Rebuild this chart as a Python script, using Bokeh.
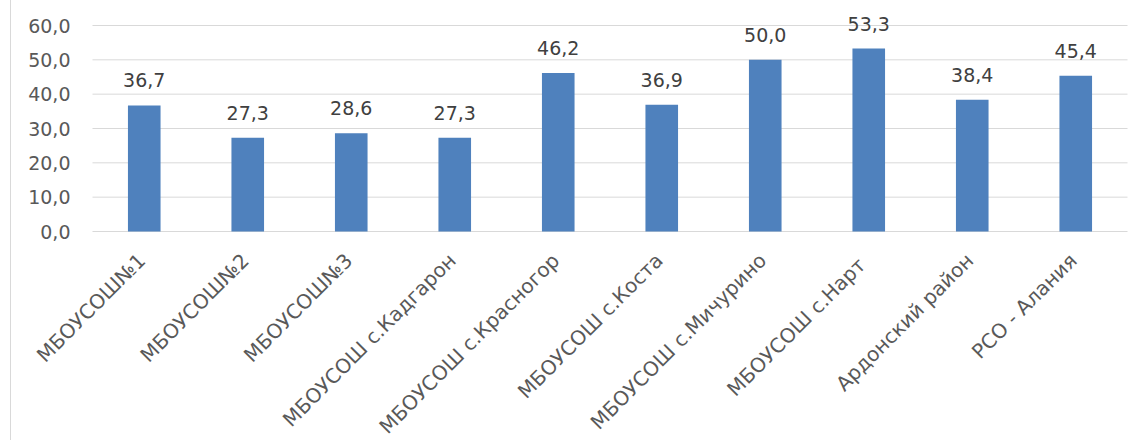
import math
from bokeh.plotting import figure
from bokeh.models import ColumnDataSource, LabelSet, Range1d
from bokeh.core.properties import value
from bokeh.embed import file_html
from bokeh.resources import INLINE

categories = ["МБОУСОШ№1", "МБОУСОШ№2", "МБОУСОШ№3", "МБОУСОШ с.Кадгарон",
              "МБОУСОШ с.Красногор", "МБОУСОШ с.Коста", "МБОУСОШ с.Мичурино",
              "МБОУСОШ  с.Нарт", "Ардонский район", "РСО - Алания"]
values = [36.7, 27.3, 28.6, 27.3, 46.2, 36.9, 50.0, 53.3, 38.4, 45.4]
y_ticks = [0, 10, 20, 30, 40, 50, 60]
y_tick_labels = ["0,0", "10,0", "20,0", "30,0", "40,0", "50,0", "60,0"]

FONT = "DejaVu Sans"
FS = "19px"
FS_CAT = "20px"

W, H = 1125, 440
N = len(categories)
# plot frame covers the whole figure so that no label is clipped;
# the category band (0..N) spans 1035 px, value band 0..60 spans 206 px
PX_X = 1035 / N
PX_Y = 206 / 60
X_LEFT = -81 / PX_X
X_RIGHT = N + (W - 81 - 1035) / PX_X
Y_TOP = 60 + 25 / PX_Y
Y_BOTTOM = -(209 / PX_Y)

xpos = [i + 0.5 for i in range(N)]

bars = ColumnDataSource(dict(x=xpos, cat=categories, val=values,
                             zero=[0] * N,
                             lab=[f"{v:.1f}".replace(".", ",") for v in values]))
ticks = ColumnDataSource(dict(y=y_ticks, lab=y_tick_labels,
                              x0=[0] * len(y_ticks), x1=[N] * len(y_ticks)))

p = figure(x_range=Range1d(X_LEFT, X_RIGHT), y_range=Range1d(Y_BOTTOM, Y_TOP),
           width=W, height=H, output_backend="svg", toolbar_location=None,
           min_border_left=0, min_border_right=0, min_border_top=0,
           min_border_bottom=0)
p.outline_line_color = None
p.background_fill_color = "white"
p.border_fill_color = "white"
p.styles = {"margin-left": "10px", "border-left": "1px solid #D9D9D9"}
p.axis.visible = False
p.grid.visible = False

# horizontal gridlines (value axis)
p.segment(x0="x0", x1="x1", y0="y", y1="y", source=ticks,
          line_color="#D9D9D9", line_width=1)

p.vbar(x="x", top="val", width=0.315, source=bars, fill_color="#4F81BD",
       line_color=None)

# value-axis tick labels
p.add_layout(LabelSet(x="x0", y="y", text="lab", source=ticks,
                      text_align="right", text_baseline="middle", x_offset=-22,
                      text_font=value(FONT), text_font_size=value(FS),
                      text_color="#595959"))

# value labels above bars
p.add_layout(LabelSet(x="x", y="val", text="lab", source=bars,
                      text_align="center", text_baseline="alphabetic",
                      y_offset=18, text_font=value(FONT), text_font_size=value(FS),
                      text_color="#404040"))

# rotated category labels
p.add_layout(LabelSet(x="x", y="zero", text="cat", source=bars,
                      angle=math.pi / 4, text_align="right", text_baseline="top",
                      x_offset=-11, y_offset=-17, text_font=value(FONT),
                      text_font_size=value(FS_CAT), text_color="#595959"))

open("out.html", "w").write(file_html(p, INLINE))
